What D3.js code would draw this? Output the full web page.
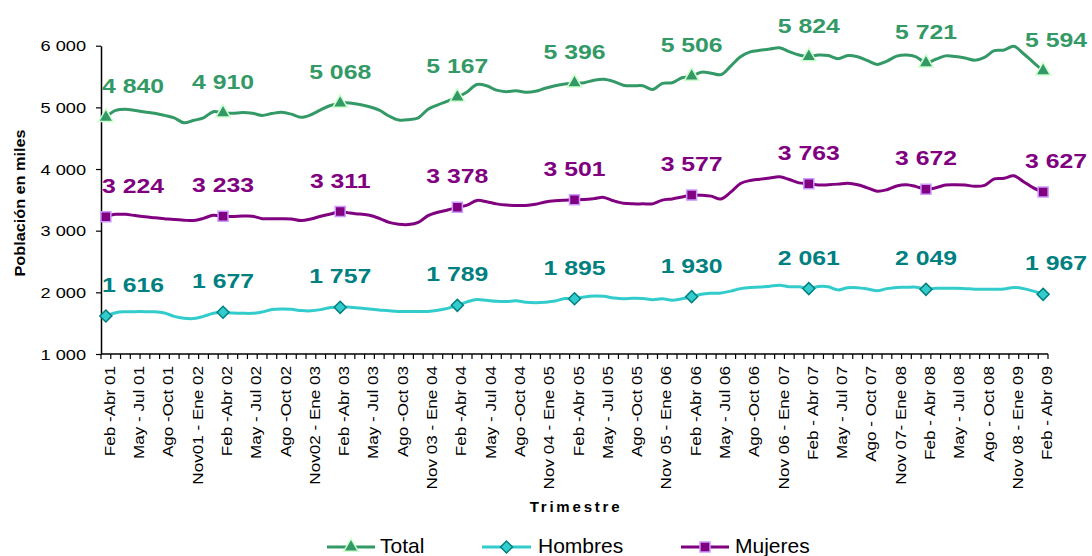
<!DOCTYPE html>
<html>
<head>
<meta charset="utf-8">
<script src="https://cdn.jsdelivr.net/npm/d3@7"></script>
<style>
  html, body { margin: 0; padding: 0; background: #fff; }
  svg { display: block; font-family: "Liberation Sans", Arial, sans-serif; }
</style>
</head>
<body>
<svg id="chart" width="1092" height="556"></svg>
<script>
// ---- data (monthly rolling quarters, Feb-Abr 01 ... Feb-Abr 09), thousands ----
const tickLabels = [
  "Feb -Abr 01", "May - Jul 01", "Ago -Oct 01", "Nov01 - Ene 02",
  "Feb -Abr 02", "May - Jul 02", "Ago -Oct 02", "Nov02 - Ene 03",
  "Feb -Abr 03", "May - Jul 03", "Ago -Oct 03", "Nov 03 - Ene 04",
  "Feb -Abr 04", "May - Jul 04", "Ago -Oct 04", "Nov 04 - Ene 05",
  "Feb -Abr 05", "May - Jul 05", "Ago -Oct 05", "Nov 05 - Ene 06",
  "Feb -Abr 06", "May - Jul 06", "Ago -Oct 06", "Nov 06 - Ene 07",
  "Feb - Abr 07", "May - Jul 07", "Ago - Oct 07", "Nov 07- Ene 08",
  "Feb - Abr 08", "May - Jul 08", "Ago - Oct 08", "Nov 08 - Ene 09",
  "Feb - Abr 09"
];

const total = [
  4840, 4950, 4970, 4950, 4925, 4905, 4870, 4830, 4750, 4790, 4830, 4930,
  4910, 4905, 4915, 4905, 4870, 4900, 4920, 4890, 4840, 4880, 4960, 5030,
  5068, 5070, 5045, 5010, 4955, 4860, 4795, 4800, 4830, 4970, 5040, 5100,
  5167, 5250, 5370, 5350, 5280, 5255, 5270, 5245, 5260, 5310, 5350, 5380,
  5396, 5400, 5440, 5455, 5420, 5360, 5350, 5350, 5290, 5390, 5400, 5480,
  5506, 5570, 5555, 5530, 5670, 5820, 5900, 5925, 5945, 5965, 5905, 5850,
  5824, 5850, 5840, 5790, 5840, 5820, 5760, 5695, 5750, 5830, 5850, 5820,
  5721, 5780, 5835, 5825, 5800, 5765, 5810, 5920, 5930, 5990, 5870, 5730,
  5594
];

const hombres = [
  1616, 1670, 1685, 1687, 1687, 1685, 1665, 1610, 1580, 1575, 1610, 1660,
  1677, 1665, 1660, 1660, 1680, 1720, 1730, 1725, 1705, 1700, 1720, 1755,
  1757, 1760, 1745, 1730, 1715, 1700, 1690, 1688, 1688, 1690, 1710, 1740,
  1789, 1845, 1885, 1870, 1855, 1850, 1862, 1840, 1833, 1840, 1858, 1900,
  1895, 1925, 1940, 1935, 1910, 1895, 1905, 1900, 1880, 1895, 1870, 1895,
  1930, 1970, 1985, 1990, 2020, 2060, 2080, 2085, 2100, 2115, 2092, 2090,
  2061, 2095, 2090, 2040, 2075, 2076, 2055, 2025, 2060, 2080, 2082, 2083,
  2049, 2065, 2066, 2066, 2060, 2052, 2050, 2050, 2055, 2080, 2060, 2020,
  1967
];

const mujeres = [
  3224, 3265, 3265, 3245, 3225, 3210, 3195, 3180, 3170, 3165, 3200, 3250,
  3233, 3230, 3237, 3235, 3195, 3195, 3195, 3190, 3165, 3190, 3235, 3270,
  3311, 3285, 3270, 3250, 3200, 3135, 3105, 3100, 3135, 3245, 3300, 3335,
  3378, 3415, 3490, 3470, 3435, 3415, 3410, 3410, 3430, 3465, 3485, 3495,
  3501, 3505, 3520, 3540, 3485, 3445, 3435, 3435, 3435, 3495, 3515, 3545,
  3577, 3575, 3560, 3515, 3625, 3765, 3815, 3835, 3855, 3875, 3830, 3775,
  3763, 3740, 3745, 3755, 3770, 3745, 3695, 3640, 3665, 3725, 3745, 3715,
  3672, 3695, 3740, 3745, 3740, 3720, 3735, 3840, 3850, 3890, 3795, 3695,
  3627
];

const yTicks = [1000, 2000, 3000, 4000, 5000, 6000];
const seriesNames = ["Total", "Hombres", "Mujeres"];

// ---- setup ----
const svg = d3.select("#chart");
svg.append("rect").attr("width", 1092).attr("height", 556).attr("fill", "#fff");

const periods = d3.range(total.length);
const x = d3.scaleBand().domain(periods).range([101, 1048]).padding(0);
const cx = i => x(i) + x.bandwidth() / 2;
const y = d3.scaleLinear().domain([1000, 6000]).range([354, 45.7]);

const loc = d3.formatLocale({ decimal: ",", thousands: " ", grouping: [3], currency: ["", ""] });
const fmt = loc.format(",d");

const series = [
  { name: seriesNames[0], values: total,   line: "#339966", fill: "#339966", stroke: "#ccffcc", label: "#339966", sym: "tri" },
  { name: seriesNames[1], values: hombres, line: "#33cccc", fill: "#33cccc", stroke: "#008080", label: "#008080", sym: "dia" },
  { name: seriesNames[2], values: mujeres, line: "#800080", fill: "#800080", stroke: "#cc99ff", label: "#800080", sym: "sq" }
];

function symbolPath(sym) {
  if (sym === "tri") return d3.symbol(d3.symbolTriangle, 90)();
  return d3.symbol(d3.symbolSquare, sym === "dia" ? 72 : 100)();
}
function symbolTransform(sym, px, py) {
  return sym === "dia" ? `translate(${px},${py}) rotate(45)` : `translate(${px},${py})`;
}

// ---- axes ----
const yAxis = svg.append("g").attr("transform", "translate(101,0)")
  .call(d3.axisLeft(y).tickValues(yTicks).tickSize(5).tickSizeOuter(0).tickFormat(fmt));
yAxis.select(".domain").attr("stroke", "#000").attr("stroke-width", 1.5);
yAxis.selectAll(".tick line").attr("stroke", "#000").attr("stroke-width", 1.2);
yAxis.selectAll(".tick text")
  .attr("x", null).attr("dy", null)
  .attr("transform", "translate(-15,5) scale(1.3,1)")
  .attr("text-anchor", "end")
  .attr("font-size", 14)
  .attr("font-family", "Liberation Sans, Arial, sans-serif")
  .attr("fill", "#000");

// x axis line + category boundary ticks
const xg = svg.append("g");
xg.append("line").attr("x1", x.range()[0]).attr("x2", x.range()[1])
  .attr("y1", y(1000)).attr("y2", y(1000)).attr("stroke", "#000").attr("stroke-width", 1.5);
const boundaries = periods.map(i => x(i)).concat([x.range()[1]]);
xg.selectAll("line.tk").data(boundaries).join("line").attr("class", "tk")
  .attr("x1", d => d).attr("x2", d => d)
  .attr("y1", y(1000)).attr("y2", y(1000) + 5)
  .attr("stroke", "#000").attr("stroke-width", 1.2);
xg.selectAll("text.xl").data(tickLabels).join("text").attr("class", "xl")
  .attr("transform", (d, k) => `translate(${cx(k * 3) + 9},${y(1000) + 12}) rotate(-90) scale(1.22,1)`)
  .attr("text-anchor", "end")
  .attr("font-size", 14)
  .attr("fill", "#000")
  .text(d => d);

// axis titles
svg.append("text")
  .attr("transform", "translate(25,203) rotate(-90) scale(1.16,1)")
  .attr("text-anchor", "middle").attr("font-weight", "bold").attr("font-size", 14)
  .attr("fill", "#000").text("Población en miles");
svg.append("text")
  .attr("x", 576).attr("y", 512)
  .attr("text-anchor", "middle").attr("font-weight", "bold").attr("font-size", 15)
  .attr("letter-spacing", 2.8).attr("fill", "#000").text("Trimestre");

// ---- lines ----
const line = d3.line().x((d, i) => cx(i)).y(d => y(d)).curve(d3.curveCatmullRom.alpha(0.5));
series.forEach(s => {
  svg.append("path").datum(s.values).attr("d", line)
    .attr("fill", "none").attr("stroke", s.line).attr("stroke-width", 3)
    .attr("stroke-linejoin", "round");
});

// ---- markers & labels (yearly Feb-Abr points) ----
const markIdx = periods.filter(i => i % 12 === 0);
const lastIdx = periods[periods.length - 1];
series.forEach(s => {
  svg.append("g").selectAll("path").data(markIdx).join("path")
    .attr("d", symbolPath(s.sym))
    .attr("transform", i => symbolTransform(s.sym, cx(i), y(s.values[i])))
    .attr("fill", s.fill).attr("stroke", s.stroke).attr("stroke-width", 1.5);
  svg.append("g").selectAll("text").data(markIdx).join("text")
    .attr("transform", i => {
      let px = cx(i), anchor;
      if (i === 0) px = 102;
      else if (i === lastIdx) px = 1087;
      return `translate(${px},${y(s.values[i]) - 24}) scale(1.18,1)`;
    })
    .attr("text-anchor", i => i === 0 ? "start" : (i === lastIdx ? "end" : "middle"))
    .attr("font-size", 21).attr("font-weight", "bold")
    .attr("fill", s.label)
    .text(i => fmt(s.values[i]));
});

// ---- legend ----
const legendPos = [{ x0: 327, x1: 375, tx: 380 }, { x0: 482, x1: 531, tx: 538 }, { x0: 681, x1: 729, tx: 735 }];
const legY = 547;
series.forEach((s, k) => {
  const p = legendPos[k];
  const g = svg.append("g");
  g.append("line").attr("x1", p.x0).attr("x2", p.x1).attr("y1", legY).attr("y2", legY)
    .attr("stroke", s.line).attr("stroke-width", 3);
  g.append("path").attr("d", symbolPath(s.sym))
    .attr("transform", symbolTransform(s.sym, (p.x0 + p.x1) / 2, legY))
    .attr("fill", s.fill).attr("stroke", s.stroke).attr("stroke-width", 1.5);
  g.append("text").attr("x", p.tx).attr("y", legY + 6)
    .attr("font-size", 21).attr("fill", "#000").text(s.name);
});
</script>
</body>
</html>
